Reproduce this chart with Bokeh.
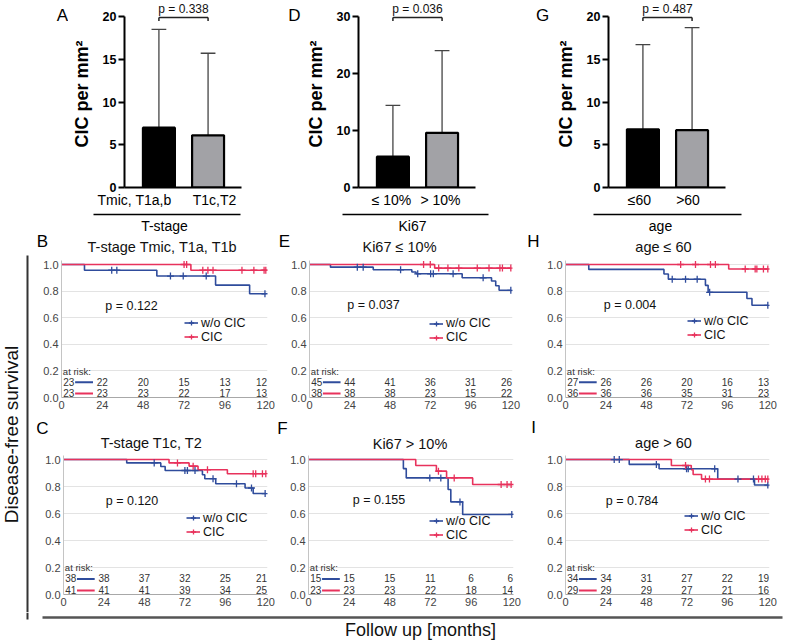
import numpy as np
from bokeh.plotting import figure
from bokeh.models import (Range1d, FixedTicker, Legend, LegendItem, PrintfTickFormatter,
                          CustomJSTickFormatter)
from bokeh.layouts import row, column
from bokeh.embed import file_html
from bokeh.resources import INLINE
from bokeh.core.properties import value

FONT = "Liberation Sans"
BLUE = "#2F4C9C"
RED = "#E8325C"

# ---------------- data: bar charts (top row) ----------------
bar_letters = ["A", "D", "G"]
bar_groups = ["T-stage", "Ki67", "age"]
bar_cats = [["Tmic, T1a,b", "T1c,T2"], ["≤ 10%", "> 10%"], ["≤60", ">60"]]
bar_means = [[7.0, 6.1], [5.4, 9.6], [6.8, 6.7]]
bar_sd = [[11.5, 9.6], [9.0, 14.4], [9.9, 12.0]]
bar_pvals = ["p = 0.338", "p = 0.036", "p = 0.487"]
bar_ymax = [20, 30, 20]
bar_ticks = [[0, 5, 10, 15, 20], [0, 10, 20, 30], [0, 5, 10, 15, 20]]
bar_colors = ["#000000", "#A2A2A6"]

# ---------------- data: Kaplan-Meier panels ----------------
km_letters = ["B", "E", "H", "C", "F", "I"]
km_titles = ["T-stage Tmic, T1a, T1b", "Ki67 ≤ 10%", "age ≤ 60",
             "T-stage T1c, T2", "Ki67 > 10%", "age > 60"]
km_pvals = ["p = 0.122", "p = 0.037", "p = 0.004", "p = 0.120", "p = 0.155", "p = 0.784"]
series_names = ["w/o CIC", "CIC"]
risk_times = [0, 24, 48, 72, 96, 120]
km_xticks = [0, 24, 48, 72, 96, 120]
km_yticks = [0.0, 0.2, 0.4, 0.6, 0.8, 1.0]

B_wo_t = [0, 13.5, 56, 90.5, 110.5, 120]
B_wo_s = [1.0, 0.957, 0.913, 0.845, 0.780, 0.780]
B_wo_c = [29.5, 32.5, 64, 71.5, 85, 119.5]
B_cic_t = [0, 76, 120]
B_cic_s = [1.0, 0.957, 0.957]
B_cic_c = [72, 73.5, 83, 86, 89, 106, 113, 119, 120]
B_risk_wo = [23, 22, 20, 15, 13, 12]
B_risk_cic = [23, 23, 23, 22, 17, 13]

E_wo_t = [0, 12.5, 38, 61, 63.5, 91, 108.5, 111, 113, 120]
E_wo_s = [1.0, 0.980, 0.960, 0.943, 0.930, 0.900, 0.876, 0.840, 0.806, 0.806]
E_wo_c = [28.5, 32, 54.3, 64.5, 72.2, 73.8, 85.6, 103.5, 120]
E_cic_t = [0, 74.6, 120]
E_cic_s = [1.0, 0.973, 0.973]
E_cic_c = [68, 72, 77, 82.5, 89, 100, 107, 113.5, 115, 120]
E_risk_wo = [45, 44, 41, 36, 31, 26]
E_risk_cic = [38, 38, 38, 23, 15, 22]

H_wo_t = [0, 13.8, 58.4, 61, 83, 84.6, 107.6, 110.6, 120]
H_wo_s = [1.0, 0.963, 0.929, 0.889, 0.843, 0.791, 0.744, 0.693, 0.693]
H_wo_c = [63.3, 71.2, 78.1, 85.5, 120]
H_cic_t = [0, 96.8, 120]
H_cic_s = [1.0, 0.966, 0.966]
H_cic_c = [68.3, 77.1, 86, 88.9, 106.6, 112.5, 113.5, 117.4, 120]
H_risk_wo = [27, 26, 26, 20, 16, 13]
H_risk_cic = [36, 36, 36, 35, 31, 23]

C_wo_t = [0, 37.5, 57.7, 60.3, 82.4, 83.8, 90.3, 107.7, 112.5, 120]
C_wo_s = [1.0, 0.975, 0.949, 0.919, 0.887, 0.858, 0.821, 0.789, 0.748, 0.748]
C_wo_c = [53.8, 72, 73.5, 78, 88.7, 102.6, 111.5, 119.6]
C_cic_t = [0, 62.6, 74.5, 79.8, 97.2, 120]
C_cic_s = [1.0, 0.975, 0.951, 0.924, 0.895, 0.895]
C_cic_c = [67.6, 76.9, 85.4, 112.5, 114, 118, 120]
C_risk_wo = [38, 38, 37, 32, 25, 21]
C_risk_cic = [41, 41, 41, 39, 34, 25]

F_wo_t = [0, 56, 57.7, 82.4, 84, 91, 120]
F_wo_s = [1.0, 0.933, 0.864, 0.778, 0.686, 0.593, 0.593]
F_wo_c = [71.6, 78.1, 89.4, 120]
F_cic_t = [0, 63.3, 75.5, 81.5, 96.9, 120]
F_cic_s = [1.0, 0.956, 0.914, 0.864, 0.815, 0.815]
F_cic_c = [76.7, 86, 113.7, 117.2, 119.6]
F_risk_wo = [15, 15, 15, 11, 6, 6]
F_risk_cic = [23, 23, 23, 22, 18, 14]

I_wo_t = [0, 37.8, 55.5, 90.3, 112.1, 120]
I_wo_s = [1.0, 0.964, 0.932, 0.855, 0.811, 0.811]
I_wo_c = [28.9, 31.9, 53.9, 71.8, 72.8, 88.5, 102.3, 111.5, 120]
I_cic_t = [0, 62.8, 74.6, 75.7, 80.7, 120]
I_cic_s = [1.0, 0.956, 0.925, 0.889, 0.855, 0.855]
I_cic_c = [71.2, 83, 85.4, 114.5, 116.5, 118.5, 120]
I_risk_wo = [34, 34, 31, 27, 22, 19]
I_risk_cic = [29, 29, 29, 27, 21, 16]

km_data = [
    (B_wo_t, B_wo_s, B_wo_c, B_cic_t, B_cic_s, B_cic_c, B_risk_wo, B_risk_cic),
    (E_wo_t, E_wo_s, E_wo_c, E_cic_t, E_cic_s, E_cic_c, E_risk_wo, E_risk_cic),
    (H_wo_t, H_wo_s, H_wo_c, H_cic_t, H_cic_s, H_cic_c, H_risk_wo, H_risk_cic),
    (C_wo_t, C_wo_s, C_wo_c, C_cic_t, C_cic_s, C_cic_c, C_risk_wo, C_risk_cic),
    (F_wo_t, F_wo_s, F_wo_c, F_cic_t, F_cic_s, F_cic_c, F_risk_wo, F_risk_cic),
    (I_wo_t, I_wo_s, I_wo_c, I_cic_t, I_cic_s, I_cic_c, I_risk_wo, I_risk_cic),
]

# ---------------- layout geometry (page pixels) ----------------
BAR_GEOM = [
    dict(fig=(68, 280, 0, 208), frame=(123, 0, 117, 187), zero=187, top=16,
         cats=[133, 213], line=(93, 240), group=164),
    dict(fig=(301, 530, 0, 208), frame=(356, 0, 117, 187), zero=187, top=16,
         cats=[389, 438], line=(342, 488), group=412),
    dict(fig=(550, 786, 0, 208), frame=(605, 0, 117, 187), zero=187, top=16,
         cats=[636, 684.5], line=(593, 741), group=660),
]
LETTER_GEOM = [(0, 68, 62), (280, 301, 293), (530, 550, 540)]
ROW2 = (256, 412)
ROW3 = (450, 610)
KM_GEOM = [
    dict(fig=(36, 275) + ROW2, frame=(61, 258, 206, 137), leg=(191, 323, 336),
         p=(131, 303), title=(162, 244.5), letter=(42, 239)),
    dict(fig=(275, 526) + ROW2, frame=(309, 258, 203, 137), leg=(436, 323, 337),
         p=(373, 302), title=(399, 244.5), letter=(284, 239)),
    dict(fig=(526, 786) + ROW2, frame=(565, 258, 204, 137), leg=(694, 321, 334),
         p=(629.5, 302), title=(663, 244.5), letter=(533, 239)),
    dict(fig=(36, 275) + ROW3, frame=(63, 453, 204, 139), leg=(193, 518, 531),
         p=(131.5, 498), title=(151, 440.5), letter=(42, 426)),
    dict(fig=(275, 526) + ROW3, frame=(308, 453, 205, 139), leg=(436, 521, 534),
         p=(378.5, 497), title=(409.5, 441), letter=(282, 426)),
    dict(fig=(526, 786) + ROW3, frame=(565, 453, 204, 139), leg=(691, 516, 529),
         p=(631.5, 498), title=(663, 440), letter=(533, 425)),
]


def make_fig(g, xr, yr):
    fl, fr, ft, fb = g["fig"]
    l, t, fw, fh = g["frame"]
    p = figure(frame_width=fw, frame_height=fh, x_range=Range1d(*xr), y_range=Range1d(*yr),
               min_border_left=l - fl, min_border_right=fr - (l + fw),
               min_border_top=t - ft, min_border_bottom=fb - (t + fh),
               output_backend="svg", toolbar_location=None, title=None)
    p.outline_line_color = None

    def D(ix, iy):
        return (xr[0] + (ix - l) / fw * (xr[1] - xr[0]),
                yr[1] - (iy - t) / fh * (yr[1] - yr[0]))
    return p, D


def canvas(x0, x1, y0, y1):
    """A plain drawing strip whose data units are page pixels (y pointing up)."""
    c = figure(frame_width=x1 - x0, frame_height=y1 - y0, x_range=Range1d(x0, x1),
               y_range=Range1d(-y1, -y0), min_border=0, x_axis_location=None,
               y_axis_location=None, output_backend="svg", toolbar_location=None, title=None)
    c.outline_line_color = None
    c.grid.grid_line_color = None
    return c


def ctext(c, x, y, text, size, angle=0.0, align="center", color="#111111"):
    c.text(x=[x], y=[-y], text=[text], angle=angle, text_align=align,
           text_baseline="middle", text_font=value(FONT), text_font_size=size,
           text_color=color)


def cline(c, x0, y0, x1, y1, w=1.5, color="#000000"):
    c.segment(x0=[x0], y0=[-y0], x1=[x1], y1=[-y1], line_color=color, line_width=w)


# ---------------- bar panels ----------------
bar_figs = []
for i, g in enumerate(BAR_GEOM):
    l, t, fw, fh = g["frame"]
    ppu = (g["zero"] - g["top"]) / bar_ymax[i]
    xr = (0.3, 2.68)
    yr = (0, bar_ymax[i] + (g["top"] - t) / ppu)
    p, D = make_fig(g, xr, yr)
    p.grid.grid_line_color = None
    xs = [1, 2]
    tops = [m + s for m, s in zip(bar_means[i], bar_sd[i])]
    p.segment(x0=xs, y0=bar_means[i], x1=xs, y1=tops, line_color="#444444", line_width=1.3)
    p.segment(x0=[x - 0.15 for x in xs], y0=tops, x1=[x + 0.15 for x in xs], y1=tops,
              line_color="#444444", line_width=1.3)
    p.vbar(x=xs, top=bar_means[i], bottom=0, width=0.65, fill_color=bar_colors,
           line_color="#000000", line_width=2.2)

    # p-value bracket
    _, yb = D(0, 17)
    _, yl = D(0, 20.5)
    _, yp = D(0, 8)
    p.segment(x0=[1, 1, 2], y0=[yb, yb, yb], x1=[2, 1, 2], y1=[yb, yl, yl],
              line_color="#222222", line_width=1.5)
    p.text(x=[1.5], y=[yp], text=[bar_pvals[i]], text_align="center", text_baseline="middle",
           text_font=value(FONT), text_font_size="12px", text_color="#111111")

    ya = p.yaxis[0]
    ya.ticker = FixedTicker(ticks=bar_ticks[i])
    ya.bounds = (0, bar_ymax[i])
    ya.axis_line_width = 2
    ya.axis_line_color = "#000000"
    ya.major_tick_line_width = 2
    ya.major_tick_line_color = "#000000"
    ya.major_tick_out = 6
    ya.major_tick_in = 0
    ya.minor_tick_line_color = None
    ya.major_label_text_font = FONT
    ya.major_label_text_font_style = "bold"
    ya.major_label_text_font_size = "12.5px"
    ya.major_label_text_color = "#000000"
    ya.major_label_standoff = 2
    ya.axis_label = "CIC per mm²"
    ya.axis_label_text_font = FONT
    ya.axis_label_text_font_size = "18px"
    ya.axis_label_text_font_style = "bold"
    ya.axis_label_text_color = "#000000"
    ya.axis_label_standoff = 8

    cat_x = [round(D(cx, 0)[0], 4) for cx in g["cats"]]
    xa = p.xaxis[0]
    xa.ticker = FixedTicker(ticks=cat_x)
    xa.formatter = CustomJSTickFormatter(args=dict(labels=bar_cats[i]),
                                         code="return labels[index]")
    xa.axis_line_width = 2
    xa.axis_line_color = "#000000"
    xa.major_tick_line_color = None
    xa.major_tick_out = 0
    xa.major_tick_in = 0
    xa.minor_tick_line_color = None
    xa.major_label_text_font = FONT
    xa.major_label_text_font_size = "14px"
    xa.major_label_text_color = "#000000"
    xa.major_label_standoff = 4
    bar_figs.append(p)

letter_figs = []
for i, (x0, x1, cx) in enumerate(LETTER_GEOM):
    c = canvas(x0, x1, 0, 208)
    ctext(c, cx, 15, bar_letters[i], "17px", color="#000000")
    letter_figs.append(c)


# ---------------- KM panels ----------------
def surv_at(t, s, c):
    idx = np.searchsorted(np.array(t), np.array(c), side="right") - 1
    return [s[k] for k in idx]


km_figs = []
for i, g in enumerate(KM_GEOM):
    wo_t, wo_s, wo_c, ci_t, ci_s, ci_c, r_wo, r_ci = km_data[i]
    xr = (0, 121)
    yr = (0, 1.03)
    p, D = make_fig(g, xr, yr)
    l, t, fw, fh = g["frame"]

    p.xgrid.grid_line_color = None
    p.ygrid.grid_line_color = "#E3E3E3"
    p.ygrid.grid_line_width = 1

    ya = p.yaxis[0]
    ya.ticker = FixedTicker(ticks=km_yticks)
    ya.formatter = PrintfTickFormatter(format="%.1f")
    ya.axis_line_color = "#C4C4C4"
    ya.major_tick_line_color = None
    ya.major_tick_out = 0
    ya.minor_tick_line_color = None
    ya.major_label_text_font = FONT
    ya.major_label_text_font_size = "11px"
    ya.major_label_text_color = "#444444"
    ya.major_label_standoff = 3

    xa = p.xaxis[0]
    xa.ticker = FixedTicker(ticks=km_xticks)
    xa.axis_line_color = "#A8A8A8"
    xa.axis_line_width = 1.2
    xa.major_tick_line_color = None
    xa.major_tick_out = 0
    xa.major_tick_in = 0
    xa.minor_tick_line_color = None
    xa.major_label_text_font = FONT
    xa.major_label_text_font_size = "11px"
    xa.major_label_text_color = "#444444"
    xa.major_label_standoff = 3

    bl = p.step(x=wo_t, y=wo_s, mode="after", line_color=BLUE, line_width=1.6)
    rl = p.step(x=ci_t, y=ci_s, mode="after", line_color=RED, line_width=1.6)
    bc = p.scatter(x=wo_c, y=surv_at(wo_t, wo_s, wo_c), marker="cross", size=7,
                   line_color=BLUE, line_width=1.3)
    rc = p.scatter(x=ci_c, y=surv_at(ci_t, ci_s, ci_c), marker="cross", size=7,
                   line_color=RED, line_width=1.3)

    # legend
    gx, r1, r2 = g["leg"]
    mid = (r1 + r2) / 2
    vx = gx - 7 - l
    vy = (t + fh) - mid - 12
    leg = Legend(items=[LegendItem(label=series_names[0], renderers=[bl, bc]),
                        LegendItem(label=series_names[1], renderers=[rl, rc])],
                 location=(vx, vy), padding=0, margin=0, spacing=-2,
                 glyph_width=14, glyph_height=13, label_height=13, label_standoff=3,
                 label_text_font=FONT, label_text_font_size="12.5px",
                 label_text_color="#111111", background_fill_alpha=0, border_line_alpha=0)
    p.add_layout(leg)

    # p-value
    px, py = D(*g["p"])
    p.text(x=[px], y=[py], text=[km_pvals[i]], text_align="center", text_baseline="middle",
           text_font=value(FONT), text_font_size="12.5px", text_color="#111111")

    # at-risk table
    tf = dict(text_font=value(FONT), text_font_size="10px", text_color="#333333",
              text_baseline="middle")
    p.text(x=[0.8], y=[0.198], text=["at risk:"], text_align="left",
           text_font=value(FONT), text_font_size="9.5px", text_color="#333333",
           text_baseline="middle")
    for risk, ymid, col in ((r_wo, 0.12, BLUE), (r_ci, 0.036, RED)):
        p.text(x=[1.0], y=[ymid], text=[str(risk[0])], text_align="left", **tf)
        p.text(x=risk_times[1:-1], y=[ymid] * 4, text=[str(v) for v in risk[1:-1]],
               text_align="center", **tf)
        p.text(x=[120.8], y=[ymid], text=[str(risk[-1])], text_align="right", **tf)
        p.segment(x0=[8.0], y0=[ymid - 0.006], x1=[18.5], y1=[ymid - 0.006],
                  line_color=col, line_width=2)
    km_figs.append(p)

# ---------------- strips with titles, letters, group labels ----------------
mid1 = canvas(36, 786, 208, ROW2[0])
for i, g in enumerate(BAR_GEOM):
    cline(mid1, g["line"][0], 212, g["line"][1], 212, 1.5, "#000000")
    ctext(mid1, g["group"], 223, bar_groups[i], "14px", color="#000000")
for i in range(3):
    g = KM_GEOM[i]
    ctext(mid1, g["letter"][0], g["letter"][1], km_letters[i], "17px", color="#000000")
    ctext(mid1, g["title"][0], g["title"][1], km_titles[i], "14.5px")

mid2 = canvas(36, 786, ROW2[1], ROW3[0])
for i in range(3, 6):
    g = KM_GEOM[i]
    ctext(mid2, g["letter"][0], g["letter"][1], km_letters[i], "17px", color="#000000")
    ctext(mid2, g["title"][0], g["title"][1], km_titles[i], "14.5px")

left = canvas(0, 36, 208, ROW3[1])
ctext(left, 11, 432, "Disease-free survival", "19px", angle=np.pi / 2)
cline(left, 27, 253, 27, ROW3[1], 2, "#333333")

bottom = canvas(0, 786, ROW3[1], 642)
cline(bottom, 42, 615, 782, 615, 2.5, "#555555")
cline(bottom, 27, ROW3[1], 27, 617, 2, "#333333")
ctext(bottom, 420, 627, "Follow up [months]", "18px")

layout = column(
    row(letter_figs[0], bar_figs[0], letter_figs[1], bar_figs[1], letter_figs[2], bar_figs[2]),
    row(left, column(mid1, row(*km_figs[:3]), mid2, row(*km_figs[3:]))),
    bottom,
)

open("out.html", "w").write(file_html(layout, INLINE))
